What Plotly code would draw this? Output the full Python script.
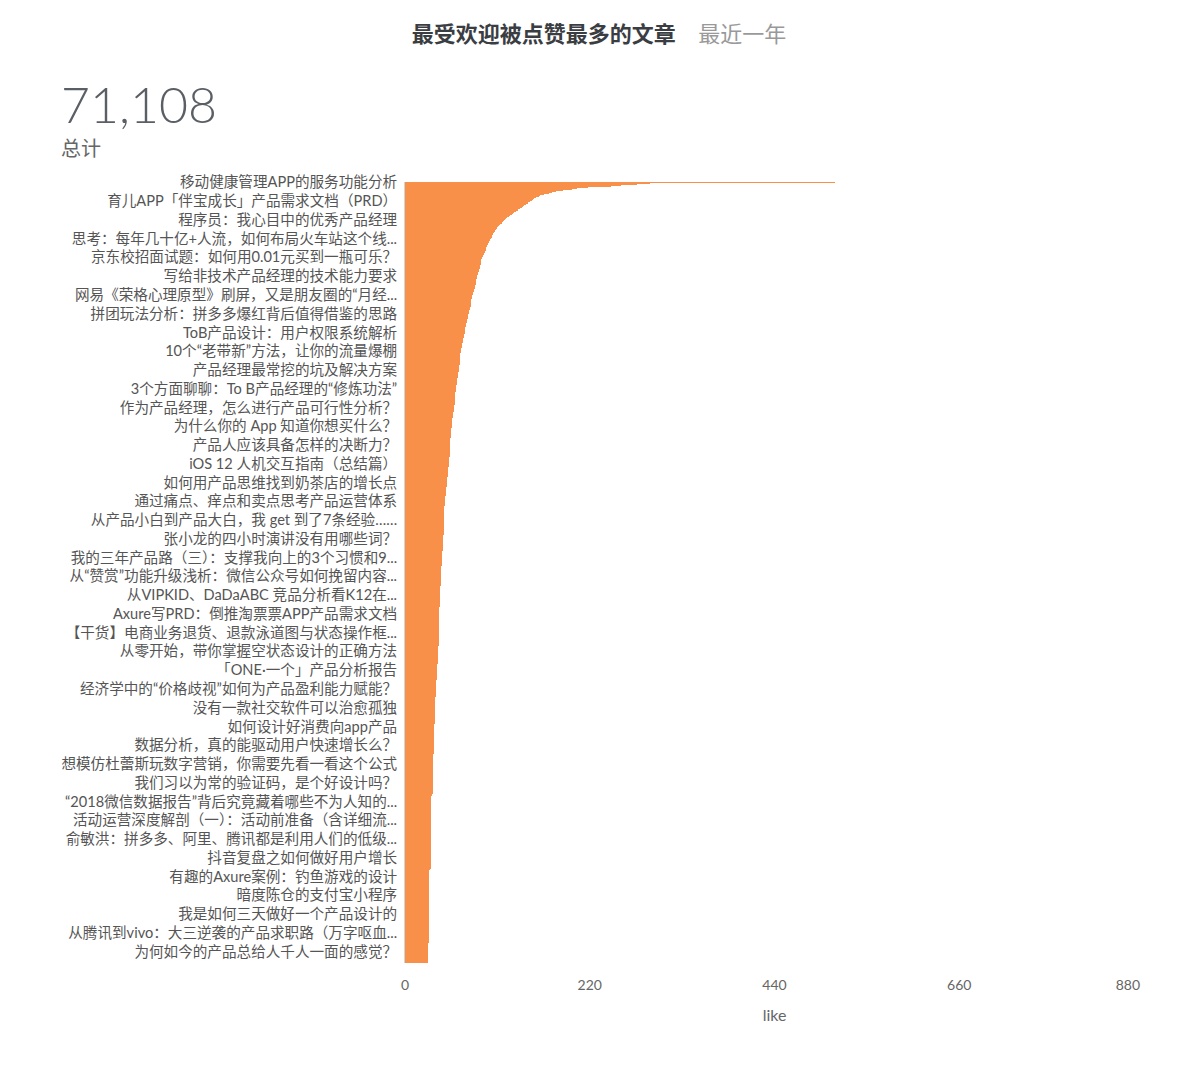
import plotly.graph_objects as go

# ---- data ----
# individually read top articles (likes, ranked descending)
top_likes = [512, 292, 287, 276, 262, 257, 245, 230, 218, 212, 205, 199, 193, 188, 184,
             180, 177, 175, 172, 169, 166, 164, 161, 159, 157, 156, 155, 154, 153]

# remaining articles as staircase levels: like value and number of articles at that value
level_likes = [152, 151, 150, 149, 148, 147, 146, 145, 144, 143, 142, 141, 140, 139, 138,
               137, 136, 135, 134, 133, 132, 131, 130, 129, 128, 127, 126, 125, 124, 123,
               122, 121, 120,
               119, 118, 117, 116, 115, 114, 113, 112, 111, 110, 109,
               108, 107, 106, 105, 104, 103, 102,
               101, 100, 99, 98, 97,
               96, 95, 94, 93, 92,
               91, 90, 89, 88, 87, 86,
               85, 84, 83, 82, 81, 80,
               79, 78, 77, 76, 75,
               74, 73, 72, 71, 70,
               69, 68, 67, 66,
               65, 64, 63,
               62, 61, 60,
               59, 58, 57,
               56, 55, 54,
               53, 52, 51,
               50, 49, 48,
               47, 46,
               45, 44,
               43, 42, 41,
               40, 39,
               38, 37,
               36, 35,
               34, 33, 32, 31, 30, 29, 28, 27]
level_counts = [1, 1, 1, 1, 1, 1, 1, 1, 1, 1, 1, 1, 1, 1, 1,
                1, 1, 1, 1, 1, 1, 1, 1, 1, 1, 1, 1, 1, 1, 1,
                1, 1, 1,
                2, 1, 2, 1, 2, 1, 2, 1, 2, 1, 2,
                2, 3, 2, 3, 2, 3, 2,
                3, 4, 3, 4, 3,
                3, 4, 3, 4, 3,
                6, 5, 6, 6, 5, 6,
                6, 5, 6, 6, 5, 6,
                7, 7, 6, 7, 7,
                7, 7, 6, 7, 7,
                8, 9, 8, 9,
                11, 12, 11,
                11, 12, 11,
                11, 12, 11,
                17, 16, 17,
                17, 16, 17,
                17, 16, 17,
                25, 25,
                26, 26,
                35, 35, 35,
                31, 31,
                28, 28,
                46, 46,
                5, 69, 3, 124, 3, 121, 3, 35]

# article titles shown as axis labels (every 32nd article by rank)
label_titles = [
    "移动健康管理APP的服务功能分析",
    "育儿APP「伴宝成长」产品需求文档（PRD）",
    "程序员：我心目中的优秀产品经理",
    "思考：每年几十亿+人流，如何布局火车站这个线...",
    "京东校招面试题：如何用0.01元买到一瓶可乐？",
    "写给非技术产品经理的技术能力要求",
    "网易《荣格心理原型》刷屏，又是朋友圈的“月经...",
    "拼团玩法分析：拼多多爆红背后值得借鉴的思路",
    "ToB产品设计：用户权限系统解析",
    "10个“老带新”方法，让你的流量爆棚",
    "产品经理最常挖的坑及解决方案",
    "3个方面聊聊：To B产品经理的“修炼功法”",
    "作为产品经理，怎么进行产品可行性分析？",
    "为什么你的 App 知道你想买什么？",
    "产品人应该具备怎样的决断力？",
    "iOS 12 人机交互指南（总结篇）",
    "如何用产品思维找到奶茶店的增长点",
    "通过痛点、痒点和卖点思考产品运营体系",
    "从产品小白到产品大白，我 get 到了7条经验……",
    "张小龙的四小时演讲没有用哪些词？",
    "我的三年产品路（三）：支撑我向上的3个习惯和9...",
    "从“赞赏”功能升级浅析：微信公众号如何挽留内容...",
    "从VIPKID、DaDaABC 竞品分析看K12在...",
    "Axure写PRD：倒推淘票票APP产品需求文档",
    "【干货】电商业务退货、退款泳道图与状态操作框...",
    "从零开始，带你掌握空状态设计的正确方法",
    "「ONE·一个」产品分析报告",
    "经济学中的“价格歧视”如何为产品盈利能力赋能？",
    "没有一款社交软件可以治愈孤独",
    "如何设计好消费向app产品",
    "数据分析，真的能驱动用户快速增长么？",
    "想模仿杜蕾斯玩数字营销，你需要先看一看这个公式",
    "我们习以为常的验证码，是个好设计吗？",
    "“2018微信数据报告”背后究竟藏着哪些不为人知的...",
    "活动运营深度解剖（一）：活动前准备（含详细流...",
    "俞敏洪：拼多多、阿里、腾讯都是利用人们的低级...",
    "抖音复盘之如何做好用户增长",
    "有趣的Axure案例：钓鱼游戏的设计",
    "暗度陈仓的支付宝小程序",
    "我是如何三天做好一个产品设计的",
    "从腾讯到vivo：大三逆袭的产品求职路（万字呕血...",
    "为何如今的产品总给人千人一面的感觉？",
]
label_step = 32
total_likes = 71108
x_ticks = [0, 220, 440, 660, 880]

# ---- build ----
likes = list(top_likes)
for v, c in zip(level_likes, level_counts):
    likes.extend([v] * c)
ranks = list(range(len(likes)))
n = len(likes)

FONT = "Lato, 'Noto Sans CJK SC', 'Noto Sans', sans-serif"

W, H = 1199, 1080
L, R, T, B = 397, 63, 174, 125
PW, PH = W - L - R, H - T - B

# last tick label is kept inside the plot edge (shifted left like the original)
x_ticktext = [str(t) for t in x_ticks]
x_ticktext[-1] = x_ticktext[-1] + "\u00a0" * 9

fig = go.Figure(go.Bar(
    x=likes, y=ranks, orientation="h",
    marker=dict(color="#f8904a", line=dict(width=0)),
    hovertemplate="%{x}<extra></extra>",
))

fig.update_layout(
    width=W, height=H,
    margin=dict(l=L, r=R, t=T, b=B),
    paper_bgcolor="white", plot_bgcolor="white",
    bargap=0,
    showlegend=False,
    font=dict(family=FONT, color="#666666", size=14),
    title=dict(
        text="<b>最受欢迎被点赞最多的文章</b>\u00a0\u00a0\u00a0\u00a0<span style='color:#999999'>最近一年</span>",
        x=591 / W, xref="container", xanchor="center",
        y=1 - 26 / H, yref="container", yanchor="middle",
        font=dict(family=FONT, size=22, color="#3a3d42"),
    ),
    xaxis=dict(
        range=[0, 880], tickvals=x_ticks, ticktext=x_ticktext,
        showgrid=False, zeroline=False, showline=False, ticks="",
        tickfont=dict(size=14, color="#666666"),
        ticklabelstandoff=12,
        title=dict(text="like", font=dict(size=16, color="#666666"), standoff=17),
    ),
    yaxis=dict(
        range=[n - 0.5, -0.5],
        tickvals=[i * label_step for i in range(len(label_titles))],
        ticktext=label_titles,
        showgrid=False, zeroline=False,
        showline=True, linecolor="#cfd6da", linewidth=1,
        ticks="", ticklabelstandoff=4,
        tickfont=dict(size=14.6, color="#555555"),
    ),
    annotations=[
        dict(text=f"{total_likes:,}", xref="paper", yref="paper",
             x=(51 - L) / PW, y=1 + (T - 96) / PH,
             xanchor="left", yanchor="middle", showarrow=False,
             font=dict(family=FONT, size=50, color="#5a5f66", weight=300)),
        dict(text="总计", xref="paper", yref="paper",
             x=(51 - L) / PW, y=1 + (T - 140) / PH,
             xanchor="left", yanchor="middle", showarrow=False,
             font=dict(family=FONT, size=20, color="#666666")),
    ],
)

fig.write_html("out.html")
